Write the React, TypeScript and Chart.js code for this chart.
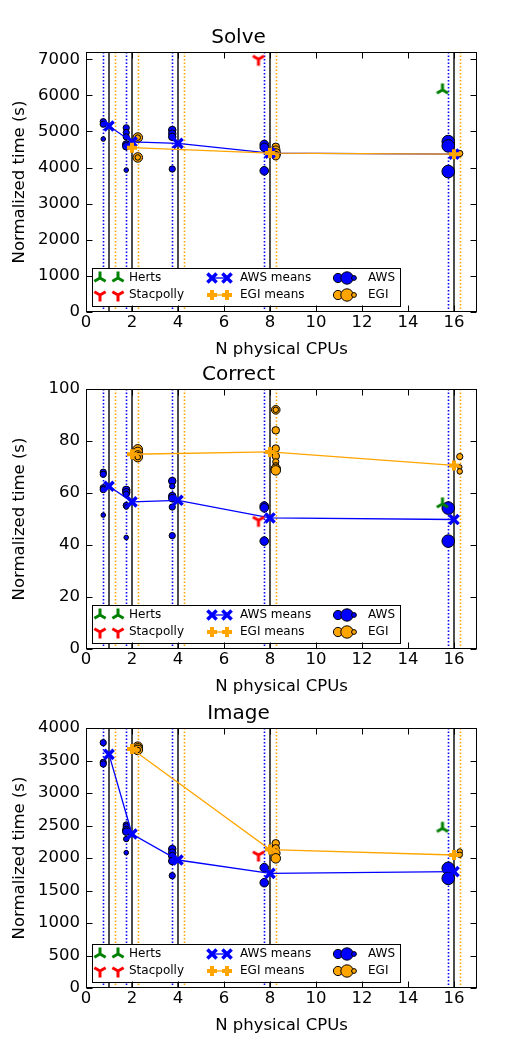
import { useEffect, useRef } from "react"
import { Chart, registerables } from "chart.js"

Chart.register(...registerables)

const FONT = "DejaVu Sans"
const BLUE = "#0000ff"
const ORANGE = "#ffa500"
const GREEN = "#008000"
const RED = "#ff0000"

// physical CPU counts (x positions)
const cpuCounts = [1, 2, 4, 8, 16]
const egiCpuCounts = [2, 8, 16]
const hertsCpu = 16
const stacpollyCpu = 8
const xTicks = [0, 2, 4, 6, 8, 10, 12, 14, 16]

// Solve
const solveYTicks = [0, 1000, 2000, 3000, 4000, 5000, 6000, 7000]
const solveAwsCpu = [1, 1, 1, 2, 2, 2, 2, 2, 2, 4, 4, 4, 4, 8, 8, 8, 16, 16, 16]
const solveAwsTime = [5270, 5200, 4790, 5100, 4970, 4850, 4640, 4590, 3930, 5040, 4940, 4850, 3960, 4640, 4560, 3910, 4720, 4600, 3890]
const solveAwsWeight = [2, 2, 1, 2, 2, 2, 3, 3, 1, 3, 3, 3, 2, 4, 4, 4, 9, 9, 9]
const solveEgiCpu = [2, 2, 2, 2, 8, 8, 8, 8, 16]
const solveEgiTime = [4830, 4830, 4280, 4280, 4575, 4480, 4390, 4330, 4390]
const solveEgiWeight = [5, 1.5, 5, 1.5, 3, 4, 5, 4, 2]
const solveAwsMeans = [5150, 4710, 4670, 4400, 4370]
const solveEgiMeans = [4550, 4400, 4370]
const solveHerts = 6150
const solveStacpolly = 7000

// Correct
const correctYTicks = [0, 20, 40, 60, 80, 100]
const correctAwsCpu = [1, 1, 1, 1, 1, 2, 2, 2, 2, 2, 2, 4, 4, 4, 4, 4, 4, 8, 8, 8, 16, 16]
const correctAwsTime = [68.0, 67.2, 62.0, 61.3, 51.5, 61.2, 60.3, 59.5, 55.2, 54.6, 42.9, 64.6, 62.6, 58.8, 58.0, 54.6, 43.6, 55.0, 54.3, 41.5, 54.2, 41.5]
const correctAwsWeight = [2, 2, 2, 2, 1, 3, 3, 2, 2, 1, 1, 3, 1.5, 3, 3, 2, 2, 4, 4, 4, 9, 9]
const correctEgiCpu = [2, 2, 2, 2, 2, 8, 8, 8, 8, 8, 8, 8, 8, 8, 16, 16, 16]
const correctEgiTime = [76.8, 75.8, 74.6, 73.8, 73.8, 92.0, 92.0, 84.1, 77.1, 74.2, 72.0, 70.5, 69.3, 68.7, 74.0, 70.0, 68.3]
const correctEgiWeight = [5, 5, 4, 5, 1.5, 4, 1.5, 3, 3, 3, 2, 2, 5, 5, 2, 1, 1.5]
const correctAwsMeans = [62.6, 56.6, 57.2, 50.4, 49.8]
const correctEgiMeans = [74.9, 75.8, 70.6]
const correctHerts = 55.8
const correctStacpolly = 49.5

// Image
const imageYTicks = [0, 500, 1000, 1500, 2000, 2500, 3000, 3500, 4000]
const imageAwsCpu = [1, 1, 1, 2, 2, 2, 2, 2, 2, 4, 4, 4, 4, 4, 8, 8, 16, 16]
const imageAwsTime = [3774, 3472, 3446, 2508, 2482, 2431, 2405, 2292, 2082, 2138, 2082, 2031, 1954, 1728, 1851, 1620, 1841, 1687]
const imageAwsWeight = [2, 2, 2, 2, 2, 3, 3, 1.5, 1, 3, 3, 3, 3, 2, 4, 4, 9, 9]
const imageEgiCpu = [2, 2, 2, 2, 8, 8, 8, 8, 16, 16]
const imageEgiTime = [3713, 3687, 3662, 3662, 2226, 2149, 2072, 1995, 2100, 2050]
const imageEgiWeight = [5, 5, 5, 1.5, 3, 3, 4, 5, 1.5, 1.5]
const imageAwsMeans = [3595, 2369, 1969, 1764, 1790]
const imageEgiMeans = [3677, 2130, 2046]
const imageHerts = 2456
const imageStacpolly = 2046

type PanelData = {
  title: string
  yMax: number
  yTicks: number[]
  awsCpu: number[]
  awsTime: number[]
  awsWeight: number[]
  egiCpu: number[]
  egiTime: number[]
  egiWeight: number[]
  awsMeans: number[]
  egiMeans: number[]
  herts: number
  stacpolly: number
}

const panels: PanelData[] = [
  { title: "Solve", yMax: 7200, yTicks: solveYTicks, awsCpu: solveAwsCpu, awsTime: solveAwsTime, awsWeight: solveAwsWeight, egiCpu: solveEgiCpu, egiTime: solveEgiTime, egiWeight: solveEgiWeight, awsMeans: solveAwsMeans, egiMeans: solveEgiMeans, herts: solveHerts, stacpolly: solveStacpolly },
  { title: "Correct", yMax: 100, yTicks: correctYTicks, awsCpu: correctAwsCpu, awsTime: correctAwsTime, awsWeight: correctAwsWeight, egiCpu: correctEgiCpu, egiTime: correctEgiTime, egiWeight: correctEgiWeight, awsMeans: correctAwsMeans, egiMeans: correctEgiMeans, herts: correctHerts, stacpolly: correctStacpolly },
  { title: "Image", yMax: 4000, yTicks: imageYTicks, awsCpu: imageAwsCpu, awsTime: imageAwsTime, awsWeight: imageAwsWeight, egiCpu: imageEgiCpu, egiTime: imageEgiTime, egiWeight: imageEgiWeight, awsMeans: imageAwsMeans, egiMeans: imageEgiMeans, herts: imageHerts, stacpolly: imageStacpolly },
]

const panelTops = [0, 337, 676]

function radius(w: number) {
  return 2 * Math.sqrt(w) + 0.3
}

// matplotlib-like tri markers (tri_up / tri_down)
function triMarker(color: string, up: boolean) {
  const c = document.createElement("canvas")
  c.width = 18
  c.height = 18
  const g = c.getContext("2d")!
  const r = 6.5
  const s = up ? -1 : 1
  g.strokeStyle = color
  g.lineWidth = 3
  g.beginPath()
  g.moveTo(9, 9)
  g.lineTo(9, 9 + s * r)
  g.moveTo(9, 9)
  g.lineTo(9 - 0.866 * r, 9 - s * 0.5 * r)
  g.moveTo(9, 9)
  g.lineTo(9 + 0.866 * r, 9 - s * 0.5 * r)
  g.stroke()
  return c
}

function vline(ctx: CanvasRenderingContext2D, x: number, top: number, bottom: number, color: string, dash: number[], width: number) {
  ctx.strokeStyle = color
  ctx.lineWidth = width
  ctx.setLineDash(dash)
  ctx.beginPath()
  ctx.moveTo(x, top)
  ctx.lineTo(x, bottom)
  ctx.stroke()
}

function drawX(ctx: CanvasRenderingContext2D, x: number, y: number) {
  const d = 4.6
  ctx.strokeStyle = BLUE
  ctx.lineWidth = 3.5
  ctx.beginPath()
  ctx.moveTo(x - d, y - d)
  ctx.lineTo(x + d, y + d)
  ctx.moveTo(x + d, y - d)
  ctx.lineTo(x - d, y + d)
  ctx.stroke()
}

function drawPlus(ctx: CanvasRenderingContext2D, x: number, y: number) {
  const d = 5
  ctx.strokeStyle = ORANGE
  ctx.lineWidth = 4
  ctx.beginPath()
  ctx.moveTo(x - d, y)
  ctx.lineTo(x + d, y)
  ctx.moveTo(x, y - d)
  ctx.lineTo(x, y + d)
  ctx.stroke()
}

function dot(ctx: CanvasRenderingContext2D, x: number, y: number, r: number, color: string) {
  ctx.fillStyle = color
  ctx.strokeStyle = "#000"
  ctx.lineWidth = 1
  ctx.beginPath()
  ctx.arc(x, y, r, 0, Math.PI * 2)
  ctx.fill()
  ctx.stroke()
}

function makePlugin(hertsIcon: HTMLCanvasElement, stacIcon: HTMLCanvasElement) {
  return {
    id: "mplStyle",
    beforeDatasetsDraw(chart: any) {
      const { ctx, chartArea: a, scales } = chart
      ctx.save()
      ctx.beginPath()
      ctx.rect(a.left, a.top, a.right - a.left, a.bottom - a.top)
      ctx.clip()
      for (const c of cpuCounts) {
        vline(ctx, Math.round(scales.x.getPixelForValue(c - 0.25)) + 0.5, a.top, a.bottom, BLUE, [1.6, 1.9], 1.6)
        vline(ctx, Math.round(scales.x.getPixelForValue(c + 0.25)) + 0.5, a.top, a.bottom, ORANGE, [1.6, 1.9], 1.6)
        vline(ctx, scales.x.getPixelForValue(c), a.top, a.bottom, "#000", [], 1.4)
      }
      ctx.restore()
    },
    afterDatasetsDraw(chart: any) {
      const { ctx, chartArea: a } = chart
      const x0 = a.left
      const yb = a.bottom
      ctx.save()
      ctx.fillStyle = "#fff"
      ctx.fillRect(x0 + 6, yb - 44, 308, 38)
      ctx.strokeStyle = "#000"
      ctx.lineWidth = 1
      ctx.strokeRect(Math.round(x0 + 6) + 0.5, Math.round(yb - 44) + 0.5, 308, 38)
      const r1 = yb - 34
      const r2 = yb - 17
      // column 1
      for (const dx of [14, 32]) {
        ctx.drawImage(hertsIcon, x0 + dx - 9, r1 - 9)
        ctx.drawImage(stacIcon, x0 + dx - 9, r2 - 9)
      }
      // column 2
      ctx.lineWidth = 1.3
      ctx.strokeStyle = BLUE
      ctx.beginPath()
      ctx.moveTo(x0 + 126, r1)
      ctx.lineTo(x0 + 141, r1)
      ctx.stroke()
      drawX(ctx, x0 + 126, r1)
      drawX(ctx, x0 + 141, r1)
      ctx.lineWidth = 1.3
      ctx.strokeStyle = ORANGE
      ctx.beginPath()
      ctx.moveTo(x0 + 126, r2)
      ctx.lineTo(x0 + 141, r2)
      ctx.stroke()
      drawPlus(ctx, x0 + 126, r2)
      drawPlus(ctx, x0 + 141, r2)
      // column 3
      dot(ctx, x0 + 252, r1, 4.6, BLUE)
      dot(ctx, x0 + 261, r1, 6.2, BLUE)
      dot(ctx, x0 + 268, r1, 2.4, BLUE)
      dot(ctx, x0 + 252, r2, 4.6, ORANGE)
      dot(ctx, x0 + 261, r2, 6.2, ORANGE)
      dot(ctx, x0 + 268, r2, 2.4, ORANGE)
      ctx.fillStyle = "#000"
      ctx.font = `12px "${FONT}"`
      ctx.textBaseline = "middle"
      ctx.textAlign = "left"
      ctx.fillText("Herts", x0 + 43, r1)
      ctx.fillText("Stacpolly", x0 + 43, r2)
      ctx.fillText("AWS means", x0 + 154, r1)
      ctx.fillText("EGI means", x0 + 154, r2)
      ctx.fillText("AWS", x0 + 282, r1)
      ctx.fillText("EGI", x0 + 282, r2)
      ctx.restore()
    },
    afterDraw(chart: any) {
      const { ctx, chartArea: a, scales } = chart
      const L = Math.round(a.left) + 0.5
      const R = Math.round(a.right) - 0.5
      const T = Math.round(a.top) + 0.5
      const B = Math.round(a.bottom) - 0.5
      ctx.save()
      ctx.strokeStyle = "#000"
      ctx.lineWidth = 1
      ctx.strokeRect(L, T, R - L, B - T)
      ctx.beginPath()
      for (const t of scales.x.ticks) {
        const px = Math.round(scales.x.getPixelForValue(t.value)) + 0.5
        ctx.moveTo(px, B)
        ctx.lineTo(px, B - 6)
        ctx.moveTo(px, T)
        ctx.lineTo(px, T + 6)
      }
      for (const t of scales.y.ticks) {
        const py = Math.round(scales.y.getPixelForValue(t.value)) + 0.5
        ctx.moveTo(L, py)
        ctx.lineTo(L + 6, py)
        ctx.moveTo(R, py)
        ctx.lineTo(R - 6, py)
      }
      ctx.stroke()
      ctx.restore()
    },
  }
}

function buildConfig(p: PanelData, hertsIcon: HTMLCanvasElement, stacIcon: HTMLCanvasElement): any {
  const tickFont = { family: FONT, size: 16.5 }
  return {
    type: "scatter",
    data: {
      datasets: [
        {
          label: "Herts",
          data: [{ x: hertsCpu - 0.5, y: p.herts }],
          pointStyle: hertsIcon,
          pointRadius: 7,
          order: 0,
        },
        {
          label: "Stacpolly",
          data: [{ x: stacpollyCpu - 0.5, y: p.stacpolly }],
          pointStyle: stacIcon,
          pointRadius: 7,
          order: 0,
        },
        {
          label: "EGI means",
          data: egiCpuCounts.map((c, i) => ({ x: c, y: p.egiMeans[i] })),
          showLine: true,
          borderColor: ORANGE,
          borderWidth: 1.3,
          pointStyle: "cross",
          pointRadius: 5,
          pointBorderWidth: 4,
          pointBorderColor: ORANGE,
          pointBackgroundColor: ORANGE,
          order: 1,
        },
        {
          label: "AWS means",
          data: cpuCounts.map((c, i) => ({ x: c, y: p.awsMeans[i] })),
          showLine: true,
          borderColor: BLUE,
          borderWidth: 1.3,
          pointStyle: "crossRot",
          pointRadius: 6.5,
          pointBorderWidth: 3.5,
          pointBorderColor: BLUE,
          pointBackgroundColor: BLUE,
          order: 2,
        },
        {
          label: "EGI",
          data: p.egiCpu.map((c, i) => ({ x: c + 0.25, y: p.egiTime[i] })),
          pointRadius: p.egiWeight.map(radius),
          pointBackgroundColor: ORANGE,
          pointBorderColor: "#000",
          pointBorderWidth: 1,
          order: 3,
        },
        {
          label: "AWS",
          data: p.awsCpu.map((c, i) => ({ x: c - 0.25, y: p.awsTime[i] })),
          pointRadius: p.awsWeight.map(radius),
          pointBackgroundColor: BLUE,
          pointBorderColor: "#000",
          pointBorderWidth: 1,
          order: 4,
        },
      ],
    },
    options: {
      responsive: false,
      animation: false,
      layout: { padding: { left: 0, right: 38, top: 0, bottom: 0 } },
      plugins: {
        legend: { display: false },
        tooltip: { enabled: false },
        title: {
          display: true,
          text: p.title,
          color: "#000",
          font: { family: FONT, size: 20, weight: "normal" },
          padding: { top: 26, bottom: 2 },
        },
      },
      scales: {
        x: {
          type: "linear",
          min: 0,
          max: 17,
          afterBuildTicks: (s: any) => {
            s.ticks = xTicks.map((v) => ({ value: v }))
          },
          ticks: { padding: 1, color: "#000", font: tickFont, maxRotation: 0, autoSkip: false, callback: (v: any) => String(v) },
          grid: { display: false, drawTicks: false },
          border: { display: false },
          title: { display: true, text: "N physical CPUs", color: "#000", font: tickFont, padding: { top: 0, bottom: 8 } },
          afterFit: (s: any) => {
            s.height = 56
          },
        },
        y: {
          type: "linear",
          min: 0,
          max: p.yMax,
          afterBuildTicks: (s: any) => {
            s.ticks = p.yTicks.map((v) => ({ value: v }))
          },
          ticks: { padding: 6, color: "#000", font: tickFont, autoSkip: false, callback: (v: any) => String(v) },
          grid: { display: false, drawTicks: false },
          border: { display: false },
          title: { display: true, text: "Normalized time (s)", color: "#000", font: tickFont, padding: { top: 10, bottom: 0 } },
          afterFit: (s: any) => {
            s.width = 86
          },
        },
      },
    },
    plugins: [makePlugin(hertsIcon, stacIcon)],
  }
}

function TimingPanel({ data, top }: { data: PanelData; top: number }) {
  const chartRef = useRef<HTMLCanvasElement>(null)

  useEffect(() => {
    if (!chartRef.current) return
    const hertsIcon = triMarker(GREEN, true)
    const stacIcon = triMarker(RED, false)
    const chart = new Chart(chartRef.current, buildConfig(data, hertsIcon, stacIcon))
    return () => chart.destroy()
  }, [data])

  return (
    <div style={{ position: "absolute", left: 0, top, width: 515, height: 368 }}>
      <canvas ref={chartRef} width={515} height={368} style={{ display: "block" }} />
    </div>
  )
}

export default function App() {
  return (
    <div style={{ position: "absolute", left: 0, top: 0, width: 515, height: 1047, background: "#fff" }}>
      {panels.map((p, i) => (
        <TimingPanel key={p.title} data={p} top={panelTops[i]} />
      ))}
    </div>
  )
}
